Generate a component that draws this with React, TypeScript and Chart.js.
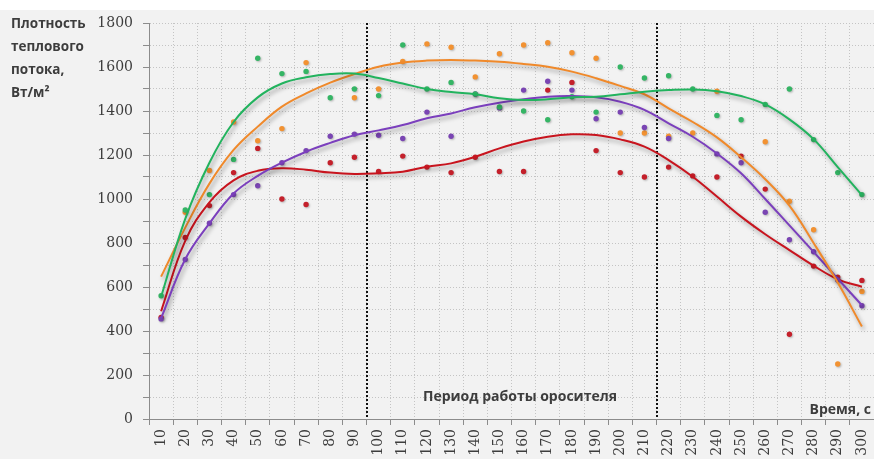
import { useEffect, useRef } from "react";
import { Chart, registerables } from "chart.js";

Chart.register(...registerables);

// Time, s
const times = [
  "10", "20", "30", "40", "50", "60", "70", "80", "90", "100",
  "110", "120", "130", "140", "150", "160", "170", "180", "190", "200",
  "210", "220", "230", "240", "250", "260", "270", "280", "290", "300",
];

// Measured heat-flux density, W/m²
const greenPoints = [560, 950, 1020, 1180, 1640, 1570, 1580, 1460, 1500, 1470, 1700, 1500, 1530, 1477, 1418, 1400, 1360, 1465, 1395, 1600, 1550, 1560, 1500, 1380, 1360, 1430, 1500, 1270, 1120, 1020];
const orangePoints = [null, 940, 1130, 1350, 1265, 1320, 1620, null, 1460, 1500, 1625, 1705, 1690, 1555, 1660, 1700, 1710, 1665, 1640, 1300, 1300, 1285, 1300, 1490, null, 1260, 990, 860, 250, 580];
const purplePoints = [455, 725, 890, 1020, 1060, 1165, 1220, 1285, 1295, 1290, 1275, 1395, 1285, 1477, 1414, 1495, 1535, 1495, 1365, 1395, 1325, 1275, null, 1205, 1165, 940, 815, 760, 632, 515];
const redPoints = [462, 825, 970, 1120, 1230, 1000, 975, 1165, 1190, 1125, 1195, 1145, 1120, 1190, 1125, 1125, 1495, 1530, 1220, 1120, 1100, 1145, 1105, 1100, 1195, 1045, 385, 695, 645, 630];

// Polynomial trend lines
const greenTrend = [555, 910, 1165, 1350, 1462, 1525, 1553, 1568, 1570, 1550, 1525, 1500, 1486, 1476, 1458, 1450, 1453, 1462, 1465, 1476, 1488, 1495, 1498, 1490, 1468, 1430, 1362, 1272, 1145, 1018];
const orangeTrend = [647, 870, 1070, 1223, 1329, 1420, 1480, 1529, 1568, 1601, 1620, 1629, 1632, 1629, 1624, 1614, 1601, 1579, 1549, 1514, 1476, 1412, 1350, 1280, 1190, 1090, 970, 800, 620, 420];
const purpleTrend = [458, 726, 889, 1025, 1105, 1165, 1215, 1255, 1290, 1312, 1336, 1367, 1389, 1417, 1438, 1453, 1465, 1468, 1462, 1442, 1405, 1344, 1283, 1207, 1117, 1000, 880, 760, 638, 517];
const redTrend = [490, 810, 985, 1085, 1128, 1140, 1133, 1120, 1114, 1117, 1124, 1147, 1162, 1192, 1230, 1261, 1283, 1294, 1291, 1271, 1238, 1177, 1101, 1011, 920, 840, 768, 697, 635, 601];

// Sprinkler operating period: boundaries lie between these neighbouring times
const periodBounds: [string, string][] = [["90", "100"], ["210", "220"]];

const yTitleLines = ["Плотность", "теплового", "потока,", "Вт/м²"];
const periodLabel = "Период работы оросителя";
const xTitle = "Время, с";

const GREEN = "#22b35e";
const ORANGE = "#f0892a";
const PURPLE = "#7b3fbd";
const RED = "#c8141e";

const TEXT = "#3d3d3d";
const SANS = "'Open Sans', 'Noto Sans', sans-serif";
const SERIF = "'DejaVu Serif', serif";

const decorPlugin = {
  id: "decor",
  beforeDraw(chart: any) {
    const { ctx, width, height } = chart;
    ctx.save();
    ctx.fillStyle = "#ffffff";
    ctx.fillRect(0, 0, width, height);
    ctx.fillStyle = "#f2f2f2";
    ctx.fillRect(0, 10, width, height - 10);
    ctx.restore();
  },
  beforeDatasetsDraw(chart: any) {
    const { ctx, chartArea } = chart;
    const xs = chart.scales.x;
    ctx.save();
    ctx.strokeStyle = "#111111";
    ctx.lineWidth = 2;
    ctx.setLineDash([2, 2]);
    for (const [a, b] of periodBounds) {
      const px = Math.round(
        (xs.getPixelForValue(times.indexOf(a)) + xs.getPixelForValue(times.indexOf(b))) / 2
      );
      ctx.beginPath();
      ctx.moveTo(px, chartArea.top);
      ctx.lineTo(px, chartArea.bottom);
      ctx.stroke();
    }
    ctx.restore();
  },
  beforeDatasetDraw(chart: any, args: any) {
    const ds = chart.data.datasets[args.index];
    const { ctx } = chart;
    ctx.save();
    if (ds.showLine === false) {
      ctx.shadowColor = "rgba(0,0,0,0.25)";
      ctx.shadowBlur = 2;
      ctx.shadowOffsetX = 1;
      ctx.shadowOffsetY = 1;
    } else {
      ctx.shadowColor = "rgba(0,0,0,0.35)";
      ctx.shadowBlur = 4;
      ctx.shadowOffsetX = 2;
      ctx.shadowOffsetY = 3;
    }
  },
  afterDatasetDraw(chart: any) {
    chart.ctx.restore();
  },
  afterDraw(chart: any) {
    const { ctx, chartArea } = chart;
    ctx.save();
    ctx.fillStyle = TEXT;
    ctx.font = `bold 13.5px ${SANS}`;
    ctx.textAlign = "left";
    ctx.textBaseline = "middle";
    yTitleLines.forEach((line, i) => {
      ctx.fillText(line, 11, 24 + i * 23);
    });
    ctx.font = `bold 14px ${SANS}`;
    ctx.textAlign = "center";
    ctx.fillText(periodLabel, 520, 397);
    ctx.textAlign = "right";
    ctx.fillText(xTitle, chartArea.right - 3, 410);
    ctx.restore();
  },
};

export default function App() {
  const canvasRef = useRef<HTMLCanvasElement | null>(null);

  useEffect(() => {
    const canvas = canvasRef.current;
    if (!canvas) return;

    const trend = (data: number[], color: string) => ({
      data,
      borderColor: color,
      backgroundColor: color,
      borderWidth: 2,
      pointRadius: 0,
      pointHoverRadius: 0,
      tension: 0.4,
      fill: false,
    });
    const dots = (data: (number | null)[], color: string) => ({
      data,
      showLine: false,
      borderColor: color,
      backgroundColor: color,
      pointBackgroundColor: color,
      pointBorderWidth: 0,
      pointRadius: 2.7,
      pointHoverRadius: 2.7,
    });

    const chart = new Chart(canvas, {
      type: "line",
      data: {
        labels: times,
        datasets: [
          trend(greenTrend, GREEN),
          trend(orangeTrend, ORANGE),
          trend(purpleTrend, PURPLE),
          trend(redTrend, RED),
          dots(greenPoints, "#35b565"),
          dots(purplePoints, "#7a45b3"),
          dots(orangePoints, "#f29232"),
          dots(redPoints, "#c4202b"),
        ] as any,
      },
      options: {
        animation: false,
        responsive: false,
        devicePixelRatio: 1,
        layout: { autoPadding: false, padding: { top: 23, right: 0, bottom: 0, left: 0 } },
        plugins: {
          legend: { display: false },
          tooltip: { enabled: false },
          title: { display: false },
        },
        scales: {
          x: {
            type: "category",
            offset: true,
            grid: {
              offset: true,
              color: "#c4c4c4",
              lineWidth: 1,
              tickLength: 6,
              tickColor: "#8c8c8c",
            },
            border: { color: "#8c8c8c", width: 1, dash: [1, 2] },
            ticks: {
              autoSkip: false,
              minRotation: 90,
              maxRotation: 90,
              padding: 4,
              color: TEXT,
              font: { family: SERIF, size: 14 },
            },
            afterFit(scale: any) {
              scale.height = 40;
              scale.paddingLeft = 0;
              scale.paddingRight = 0;
            },
          },
          y: {
            min: 0,
            max: 1800,
            grid: {
              color: "#c4c4c4",
              lineWidth: 1,
              tickLength: 6,
              tickColor: "#8c8c8c",
            },
            border: { color: "#8c8c8c", width: 1, dash: [1, 2] },
            ticks: {
              stepSize: 100,
              padding: 10,
              color: TEXT,
              font: { family: SERIF, size: 14 },
              callback: (v: any) => (Number(v) % 200 === 0 ? String(v) : ""),
            },
            afterFit(scale: any) {
              scale.width = 149;
              scale.paddingTop = 0;
              scale.paddingBottom = 0;
            },
          },
        },
      } as any,
      plugins: [decorPlugin],
    });

    return () => chart.destroy();
  }, []);

  return (
    <div style={{ position: "absolute", left: 0, top: 0, width: 874, height: 459 }}>
      <canvas ref={canvasRef} width={874} height={459} style={{ display: "block" }} />
    </div>
  );
}
